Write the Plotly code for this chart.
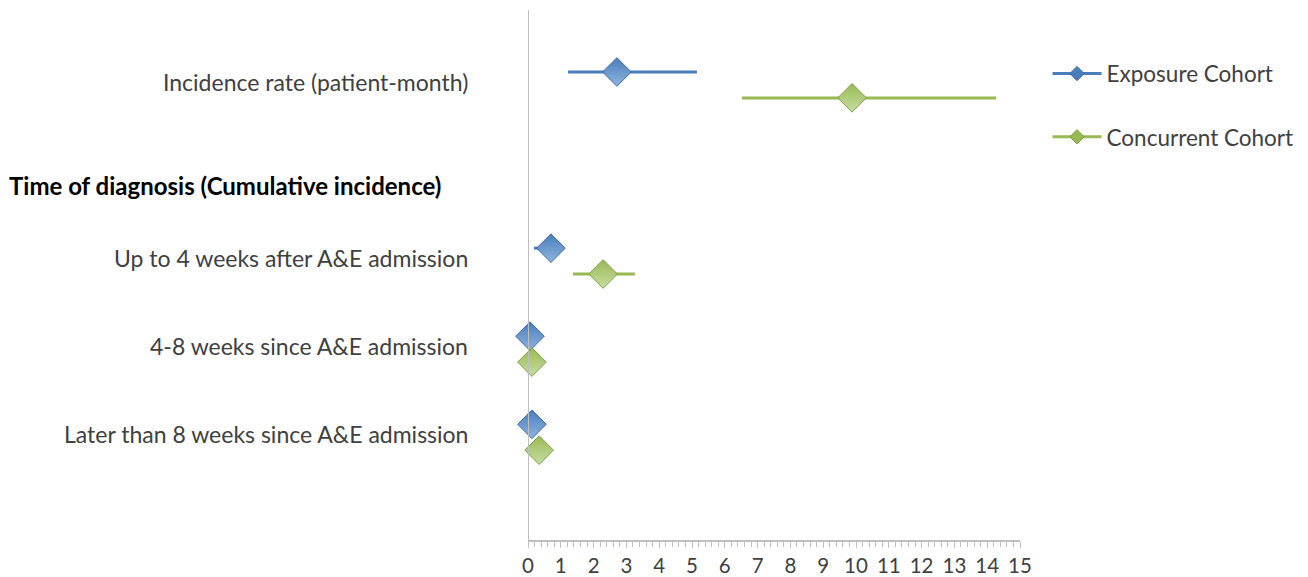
import plotly.graph_objects as go

# Row labels (top to bottom) and their row positions on the category axis
row_labels = [
    "Incidence rate (patient-month)",
    "Up to 4 weeks after A&E admission",
    "4-8 weeks since A&E admission",
    "Later than 8 weeks since A&E admission",
]
row_pos = [0, 2, 3, 4]
header_label = "Time of diagnosis (Cumulative incidence)"

# Point estimates with lower / upper bounds
exposure_est = [2.71, 0.70, 0.06, 0.12]
exposure_lo = [1.22, 0.18, 0.06, 0.12]
exposure_hi = [5.15, 0.95, 0.06, 0.12]

concurrent_est = [9.88, 2.29, 0.12, 0.34]
concurrent_lo = [6.52, 1.37, 0.12, 0.34]
concurrent_hi = [14.27, 3.26, 0.12, 0.34]

x_ticks = list(range(0, 16))

BLUE = "#4A7EBB"
GREEN = "#98B954"
TEXT = "#404040"
AXIS = "#BFBFBF"
FONT = "Lato, Open Sans, Liberation Sans, sans-serif"

off_exp = -0.114
off_con = 0.18

fig = go.Figure()


def add_series(name, est, lo, hi, off, color, dark, light):
    fig.add_trace(go.Scatter(
        x=est,
        y=[p + off for p in row_pos],
        mode="markers",
        name=name,
        showlegend=False,
        cliponaxis=False,
        marker=dict(symbol="diamond", size=22, color=color,
                    line=dict(color=dark, width=1),
                    gradient=dict(type="vertical", color=light)),
        error_x=dict(type="data", symmetric=False,
                     array=[h - e for h, e in zip(hi, est)],
                     arrayminus=[e - l for e, l in zip(est, lo)],
                     color=color, thickness=3, width=0),
    ))
    # legend entry: line with a small diamond
    fig.add_trace(go.Scatter(
        x=[None], y=[None], mode="lines+markers", name=name,
        legendgroup=name,
        line=dict(color=color, width=3),
        marker=dict(symbol="diamond", size=11, color=color,
                    line=dict(color=dark, width=1)),
    ))


add_series("Exposure Cohort", exposure_est, exposure_lo, exposure_hi,
           off_exp, BLUE, "#3A6BA5", "#8FB3E0")
add_series("Concurrent Cohort", concurrent_est, concurrent_lo, concurrent_hi,
           off_con, GREEN, "#7E9E43", "#C9DDA3")

annotations = []
for lab, p in zip(row_labels, row_pos):
    annotations.append(dict(
        x=-0.117, xref="paper", y=p, yref="y", text=lab,
        showarrow=False, xanchor="right", yanchor="middle",
        font=dict(family=FONT, size=23, color=TEXT)))
annotations.append(dict(
    x=-1.058, xref="paper", y=1.17, yref="y", text="<b>" + header_label + "</b>",
    showarrow=False, xanchor="left", yanchor="middle",
    font=dict(family=FONT, size=24, color="#000000")))

fig.update_layout(
    template="none",
    width=1308, height=577,
    margin=dict(l=528, r=288, t=10, b=37, autoexpand=False),
    paper_bgcolor="white", plot_bgcolor="white",
    showlegend=True,
    legend=dict(x=1.056, xanchor="left", y=0.92, yanchor="top",
                tracegroupgap=31,
                font=dict(family=FONT, size=22.5, color=TEXT),
                itemwidth=49, bgcolor="rgba(0,0,0,0)"),
    annotations=annotations,
    xaxis=dict(range=[0, 15], tickvals=x_ticks, automargin=False,
               showgrid=False, zeroline=False,
               showline=True, linecolor=AXIS, linewidth=2,
               ticks="outside", ticklen=6, tickcolor=AXIS, tickwidth=1,
               minor=dict(ticks="outside", ticklen=5, tickcolor=AXIS,
                          dtick=0.2, showgrid=False),
               tickfont=dict(family=FONT, size=20.5, color=TEXT),
               fixedrange=True),
    yaxis=dict(range=[5.2, -0.818], showticklabels=False, automargin=False,
               showgrid=False, zeroline=False, showline=False, ticks=""),
    shapes=[dict(type="line", xref="x", yref="paper", x0=0, x1=0,
                 y0=0, y1=1, line=dict(color=AXIS, width=2))],
)

fig.write_html("out.html")
